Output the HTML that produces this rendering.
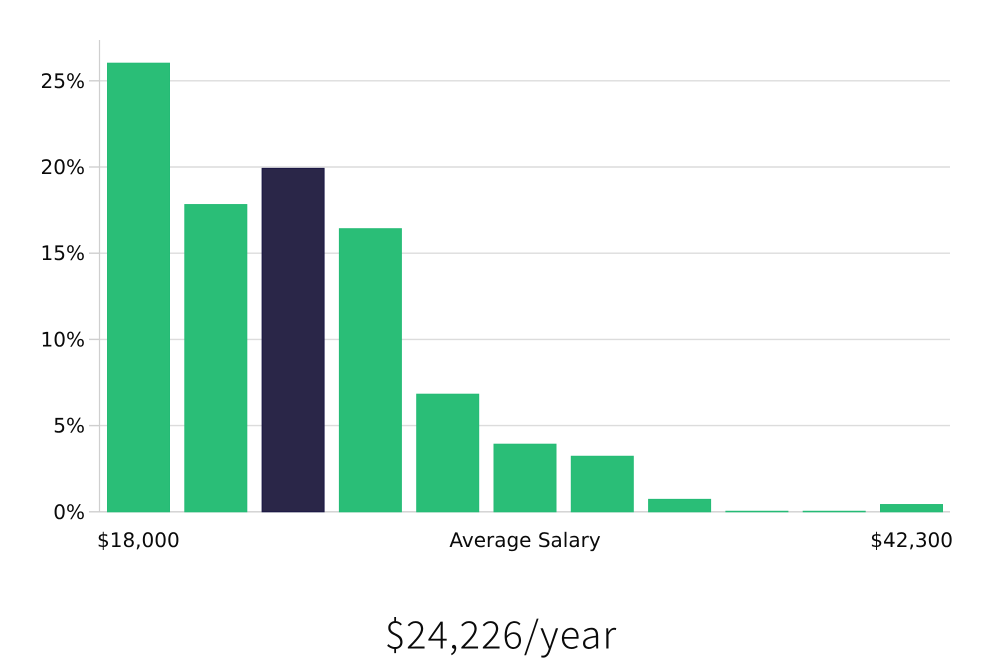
<!DOCTYPE html>
<html>
<head>
<meta charset="utf-8">
<style>
html,body{margin:0;padding:0;background:#fff;width:1000px;height:660px;overflow:hidden}
svg{display:block}
text{font-family:"DejaVu Sans","Liberation Sans",sans-serif;font-size:20px;fill:#0a0a0a;text-rendering:geometricPrecision}
#headline{font-family:"Noto Sans CJK JP","Liberation Sans",sans-serif;font-weight:300;font-size:38px;letter-spacing:1.1px;fill:#0a0a0a}
</style>
</head>
<body>
<svg id="chart" width="1000" height="660" viewBox="0 0 1000 660" xmlns="http://www.w3.org/2000/svg">
  <g id="grid"></g>
  <line x1="99.5" x2="99.5" y1="40" y2="512" stroke="#cfcfcf" stroke-width="1.2"/>
  <g id="bars"></g>
  <g id="ticks"></g>
  <text x="97" y="547">$18,000</text>
  <text x="525" y="547" text-anchor="middle">Average Salary</text>
  <text x="953" y="547" text-anchor="end">$42,300</text>
  <text id="headline" x="501" y="648.5" text-anchor="middle">$24,226/year</text>
</svg>
<script>
const categories = [0, 1, 2, 3, 4, 5, 6, 7, 8, 9, 10];
const values = [26.05, 17.85, 19.95, 16.45, 6.85, 3.95, 3.25, 0.75, 0.06, 0.06, 0.45];
const highlighted = [2];
const yTicks = [0, 5, 10, 15, 20, 25];

const NS = 'http://www.w3.org/2000/svg';
const plotLeft = 107, bandStep = 77.3, barWidth = 63;
const baseY = 511.8, pxPerUnit = 17.24;
function xScale(i) { return plotLeft + i * bandStep; }
function yScale(v) { return baseY - v * pxPerUnit; }
function make(tag, attrs) {
  const el = document.createElementNS(NS, tag);
  for (const k in attrs) el.setAttribute(k, attrs[k]);
  return el;
}
const grid = document.getElementById('grid');
const ticks = document.getElementById('ticks');
const bars = document.getElementById('bars');

yTicks.forEach(function (t) {
  const y = yScale(t);
  const gl = make('line', { x1: 99.5, x2: 950, y1: y, y2: y, stroke: t === 0 ? '#cfcfcf' : '#dcdcdc', 'stroke-width': 1.4 });
  
  
  grid.appendChild(gl);
  const tk = make('line', { x1: 89, x2: 99.5, y1: y, y2: y, stroke: '#cfcfcf', 'stroke-width': 1.4 });
  
  
  ticks.appendChild(tk);
  const lb = make('text', { x: 85, y: y + 7, 'text-anchor': 'end' });
  lb.textContent = t + '%';
  
  
  ticks.appendChild(lb);
});

categories.forEach(function (c, i) {
  const isHi = highlighted.indexOf(c) !== -1;
  const top = yScale(values[i]);
  const r = make('rect', {
    x: xScale(i) + 0.5, y: top + 0.5, width: barWidth - 1, height: Math.max(baseY - top - 0.5, 0.5),
    fill: isHi ? '#2a2648' : '#2abe77',
    stroke: isHi ? '#1a1745' : '#25bb76', 'stroke-width': 1
  });
  
  
  bars.appendChild(r);
});
</script>
</body>
</html>
